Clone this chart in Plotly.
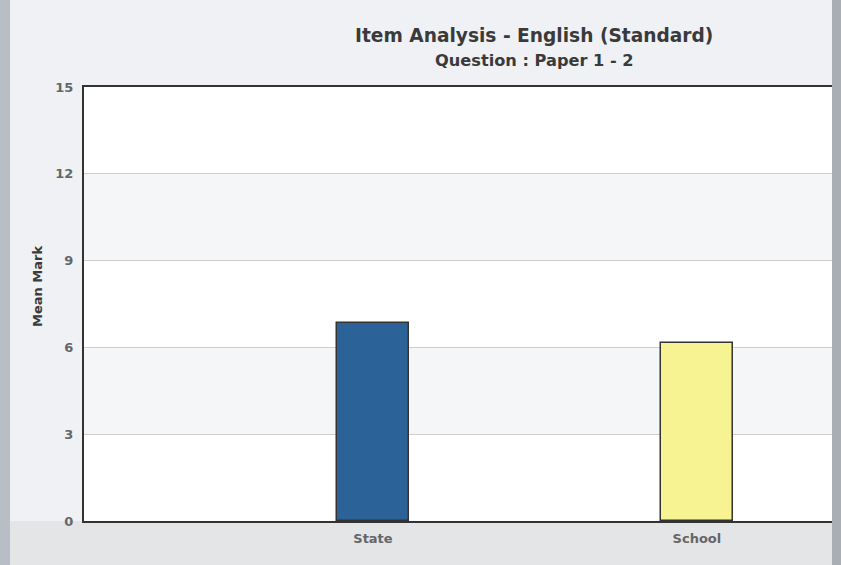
import plotly.graph_objects as go

categories = ["State", "School"]
values = [6.86, 6.14]
colors = ["#2b6399", "#f7f292"]
y_ticks = [0, 3, 6, 9, 12, 15]
title = "Item Analysis - English (Standard)"
subtitle = "Question : Paper 1 - 2"
y_title = "Mean Mark"

W, H = 841, 565
L, R, T, B = 84, 9, 87, 44
pw, ph = W - L - R, H - T - B

def px(x):
    return (x - L) / pw

def py(y):
    return (H - B - y) / ph

fig = go.Figure()
fig.add_trace(go.Bar(
    x=categories, y=values,
    marker=dict(color=colors, line=dict(color="#333333", width=1.5)),
    width=0.22,
))

shapes = []
for y0, y1 in [(3, 6), (9, 12)]:
    shapes.append(dict(type="rect", xref="paper", yref="y", x0=0, x1=1, y0=y0, y1=y1,
                       fillcolor="#f4f6f8", line=dict(width=0), layer="below"))
shapes.append(dict(type="rect", xref="paper", yref="paper", x0=px(0), x1=px(W), y0=py(H), y1=0,
                   fillcolor="#e4e5e7", line=dict(width=0), layer="below"))
shapes.append(dict(type="rect", xref="paper", yref="paper", x0=px(0), x1=px(10), y0=py(H), y1=py(0),
                   fillcolor="#b9bec6", line=dict(width=0), layer="below"))
shapes.append(dict(type="rect", xref="paper", yref="paper", x0=1, x1=px(W), y0=py(H), y1=py(0),
                   fillcolor="#a9aeb5", line=dict(width=0), layer="below"))

fig.update_layout(
    width=W, height=H,
    margin=dict(l=L, r=R, t=T, b=B),
    paper_bgcolor="#eff1f4",
    plot_bgcolor="#ffffff",
    showlegend=False,
    bargap=0,
    shapes=shapes,
    font=dict(family="DejaVu Sans", color="#555555", size=11),
    annotations=[
        dict(text="<b>" + title + "</b>", xref="paper", yref="paper", x=px(534), y=py(35),
             showarrow=False, font=dict(size=18.6, color="#3a3a3a"), xanchor="center", yanchor="middle"),
        dict(text="<b>" + subtitle + "</b>", xref="paper", yref="paper", x=px(534), y=py(61),
             showarrow=False, font=dict(size=16.2, color="#3a3a3a"), xanchor="center", yanchor="middle"),
        dict(text="<b>" + y_title + "</b>", xref="paper", yref="paper", x=px(37), y=py(287),
             showarrow=False, textangle=-90, font=dict(size=13, color="#3a3a3a"),
             xanchor="center", yanchor="middle"),
    ],
)
fig.update_xaxes(
    range=[-0.892, 1.417],
    showline=True, linecolor="#333333", linewidth=2, mirror=True,
    showgrid=False, ticks="", ticklabelstandoff=4,
    tickfont=dict(size=13, color="#666666", weight="bold"),
)
fig.update_yaxes(
    range=[0, 15], tickvals=y_ticks,
    showline=True, linecolor="#333333", linewidth=2,
    showgrid=True, gridcolor="#d3cccc", gridwidth=1,
    ticks="", ticklabelstandoff=6,
    tickfont=dict(size=13, color="#666666", weight="bold"),
    zeroline=False,
)
fig.write_html("out.html", config={"displayModeBar": False},
               post_script="document.body.style.margin='0';")
